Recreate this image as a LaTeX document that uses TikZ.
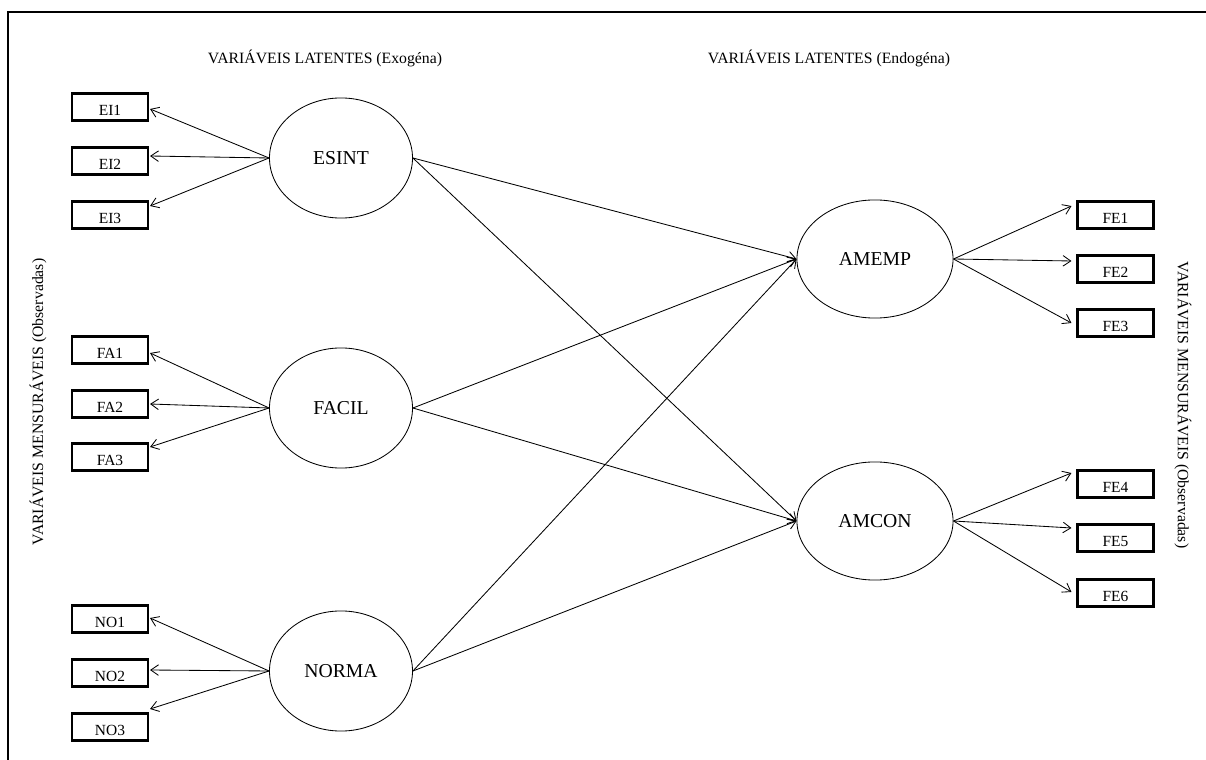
\documentclass[tikz,border=0pt]{standalone}
\usepackage{fontspec}
\setmainfont{Liberation Serif}
\usetikzlibrary{arrows.meta, calc, shapes.geometric}

\begin{document}
\begin{tikzpicture}[x=0.025cm, y=-0.025cm,
  latent/.style={draw, ellipse, line width=0.6pt, inner sep=0pt, minimum width=101.7pt, minimum height=85.4pt, font=\fontsize{14}{16}\selectfont},
  endolatent/.style={latent, minimum width=111pt, minimum height=84pt},
  obs/.style={draw, line width=1.5pt, inner sep=0pt, minimum width=54pt, minimum height=19.2pt, text height=11.5pt, text depth=0pt, font=\fontsize{11}{13}\selectfont},
  caption/.style={font=\fontsize{11.2}{13}\selectfont},
  arr/.style={-{Straight Barb[length=5.5pt, width=7.5pt]}, line width=0.6pt},
]
\useasboundingbox (0,0) rectangle (1206,760);

% frame (only top and left edges show)
\draw[line width=1.5pt] (8,775) -- (8,12) -- (1220,12);

% headings
\node[caption] (capexo) at (325,58) {VARIÁVEIS LATENTES (Exogéna)};
\node[caption] (capendo) at (829,58) {VARIÁVEIS LATENTES (Endogéna)};
\node[caption, rotate=90] (obsleft) at (38,402) {VARIÁVEIS MENSURÁVEIS (Observadas)};
\node[caption, rotate=-90] (obsright) at (1183,405) {VARIÁVEIS MENSURÁVEIS (Observadas)};

% latent variables
\node[latent] (ESINT) at (341,158) {ESINT};
\node[latent] (FACIL) at (341,408) {FACIL};
\node[latent] (NORMA) at (341,671) {NORMA};
\node[endolatent] (AMEMP) at (875,259) {AMEMP};
\node[endolatent] (AMCON) at (875,521) {AMCON};

% observed variables
\foreach \name/\y in {EI1/107, EI2/161, EI3/215, FA1/350, FA2/404, FA3/457, NO1/619, NO2/673, NO3/727}
  \node[obs] (\name) at (110,\y) {\name};
\foreach \name/\y in {FE1/215, FE2/269, FE3/323, FE4/484, FE5/538, FE6/593}
  \node[obs] (\name) at (1115.5,\y) {\name};

% measurement arrows
\foreach \src/\dst/\dy in {ESINT/EI1/2, ESINT/EI2/-5, ESINT/EI3/-9, FACIL/FA1/3, FACIL/FA2/0, FACIL/FA3/-10, NORMA/NO1/-1, NORMA/NO2/-3, NORMA/NO3/-18}
  \draw[arr] (\src.west) -- ($(\dst.east)+(1,\dy)$);
\foreach \src/\dst/\dy in {AMEMP/FE1/-9, AMEMP/FE2/-8, AMEMP/FE3/0, AMCON/FE4/-11, AMCON/FE5/-10, AMCON/FE6/-1}
  \draw[arr] (\src.east) -- ($(\dst.west)+(-5,\dy)$);

% structural arrows
\foreach \src in {ESINT, FACIL, NORMA}
  \foreach \dst in {AMEMP, AMCON}
    \draw[arr] (\src.east) -- (\dst.west);

\end{tikzpicture}
\end{document}
